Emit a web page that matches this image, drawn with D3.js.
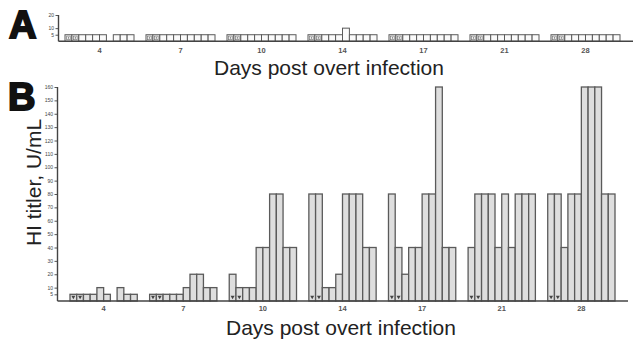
<!DOCTYPE html>
<html><head><meta charset="utf-8">
<script src="https://cdn.jsdelivr.net/npm/d3@7"></script>
<style>html,body{margin:0;padding:0;background:#fff;}svg{display:block;}</style>
</head><body>
<script>
const days = ["4","7","10","14","17","21","28"];
const slots = [0,1,2,3,4,5,6,7,8,9];
// Panel A values (null = no sample)
const aDay4  = [5,5,5,5,5,5,null,5,5,5];
const aDay7  = [5,5,5,5,5,5,5,5,5,5];
const aDay10 = [5,5,5,5,5,5,5,5,5,5];
const aDay14 = [5,5,5,5,5,10,5,5,5,5];
const aDay17 = [5,5,5,5,5,5,5,5,5,5];
const aDay21 = [5,5,5,5,5,5,5,5,5,5];
const aDay28 = [5,5,5,5,5,5,5,5,5,5];
// Panel B values
const bDay4  = [5,5,5,5,10,5,null,10,5,5];
const bDay7  = [5,5,5,5,5,10,20,20,10,10];
const bDay10 = [20,10,10,10,40,40,80,80,40,40];
const bDay14 = [80,80,10,10,20,80,80,80,40,40];
const bDay17 = [80,40,20,40,40,80,80,160,40,40];
const bDay21 = [40,80,80,80,40,80,40,80,80,80];
const bDay28 = [80,80,40,80,80,160,160,160,80,80];
// slots flagged as below detection
const flagged = [0,1];
const aTicks = [5,10,20];
const bTicks = [5,10,20,30,40,50,60,70,80,90,100,110,120,130,140,150,160];
const xTitle = "Days post overt infection";
const yTitle = "HI titler, U/mL";

const aSeries = [aDay4,aDay7,aDay10,aDay14,aDay17,aDay21,aDay28];
const bSeries = [bDay4,bDay7,bDay10,bDay14,bDay17,bDay21,bDay28];
function flat(series){
  const out=[];
  series.forEach((vals,gi)=>vals.forEach((v,si)=>{ if(v!=null) out.push({day:days[gi],slot:si,value:v}); }));
  return out;
}

const W=637,H=341;
const svg=d3.select("body").append("svg").attr("width",W).attr("height",H);
const FONT="'Liberation Sans', Arial, sans-serif";

function panel(opts){
  const {series,xRange,yScale,ticks,axisLeftX,axisRightX,fill,marker,labelY,pad}=opts;
  const x=d3.scaleBand().domain(days).range(xRange).paddingInner(pad).paddingOuter(0);
  const xs=d3.scaleBand().domain(slots).range([0,x.bandwidth()]);
  const g=svg.append("g");
  const data=flat(series);
  const y0=yScale(0);
  g.selectAll("rect.bar").data(data).join("rect").attr("class","bar")
    .attr("x",d=>x(d.day)+xs(d.slot))
    .attr("width",xs.bandwidth())
    .attr("y",d=>yScale(d.value))
    .attr("height",d=>y0-yScale(d.value))
    .attr("fill",fill).attr("stroke","#5a5a5a").attr("stroke-width",opts.sw);
  const fl=data.filter(d=>flagged.includes(d.slot));
  if(marker==="v"){
    g.selectAll("path.mk").data(fl).join("path").attr("class","mk")
      .attr("d",d3.symbol(d3.symbolTriangle,7)())
      .attr("transform",d=>`translate(${x(d.day)+xs(d.slot)+xs.bandwidth()/2},${y0-4}) rotate(180)`)
      .attr("fill","#444");
  } else {
    g.selectAll("rect.mk").data(fl).join("rect").attr("class","mk")
      .attr("x",d=>x(d.day)+xs(d.slot)+xs.bandwidth()/2-1.8)
      .attr("y",d=>y0-5.2).attr("width",3.6).attr("height",3.6)
      .attr("fill","none").attr("stroke","#777").attr("stroke-width",0.7);
    g.selectAll("circle.mk").data(fl).join("circle").attr("class","mk")
      .attr("cx",d=>x(d.day)+xs(d.slot)+xs.bandwidth()/2)
      .attr("cy",d=>y0-3.4).attr("r",0.7).attr("fill","#555");
  }
  g.append("line").attr("x1",axisLeftX).attr("x2",axisRightX).attr("y1",y0).attr("y2",y0)
    .attr("stroke","#444").attr("stroke-width",1.6);
  g.selectAll("text.xl").data(days).join("text").attr("class","xl")
    .attr("x",d=>x(d)+x.bandwidth()/2).attr("y",labelY)
    .attr("text-anchor","middle").attr("font-family",FONT).attr("font-size",7.5)
    .attr("font-weight","bold").attr("fill","#555").text(d=>d);
  const ya=d3.axisLeft(yScale).tickValues(ticks).tickSize(3).tickPadding(1.5);
  const yg=g.append("g").attr("transform",`translate(${axisLeftX},0)`).call(ya);
  yg.select(".domain").attr("stroke","#444").attr("stroke-width",1.4)
    .attr("d",`M0,${y0}V${yScale(ticks[ticks.length-1])}`);
  yg.selectAll(".tick line").attr("stroke","#444").attr("stroke-width",0.9);
  yg.selectAll(".tick text").attr("font-family",FONT).attr("font-size",opts.yfs).attr("fill","#444");
}

const yA=d3.scaleLinear().domain([0,20]).range([41.3,15]);
const yB=d3.scaleLinear().domain([0,160]).range([301,87]);

panel({series:aSeries,xRange:[65,620],pad:0.148,yScale:yA,ticks:aTicks,axisLeftX:58.5,axisRightX:633,
  fill:"#fafafa",marker:"sq",labelY:53,yfs:5,sw:1});
panel({series:bSeries,xRange:[70,615],pad:0.155,yScale:yB,ticks:bTicks,axisLeftX:57.5,axisRightX:628,
  fill:"#dedede",marker:"v",labelY:311,yfs:5,sw:1.3});

svg.append("text").attr("x",9).attr("y",38).attr("font-family",FONT).attr("font-weight","bold")
  .attr("font-size",38).attr("fill","#111").attr("stroke","#111").attr("stroke-width",2).text("A");
svg.append("text").attr("x",8).attr("y",110).attr("font-family",FONT).attr("font-weight","bold")
  .attr("font-size",38).attr("fill","#111").attr("stroke","#111").attr("stroke-width",2).text("B");

svg.append("text").attr("x",329).attr("y",75).attr("text-anchor","middle").attr("font-family",FONT)
  .attr("font-size",21).attr("fill","#222").text(xTitle);
svg.append("text").attr("x",341).attr("y",335).attr("text-anchor","middle").attr("font-family",FONT)
  .attr("font-size",21).attr("fill","#222").text(xTitle);
svg.append("text").attr("transform","translate(41,182.5) rotate(-90)").attr("text-anchor","middle")
  .attr("font-family",FONT).attr("font-size",21).attr("fill","#222").text(yTitle);
</script>
</body></html>
